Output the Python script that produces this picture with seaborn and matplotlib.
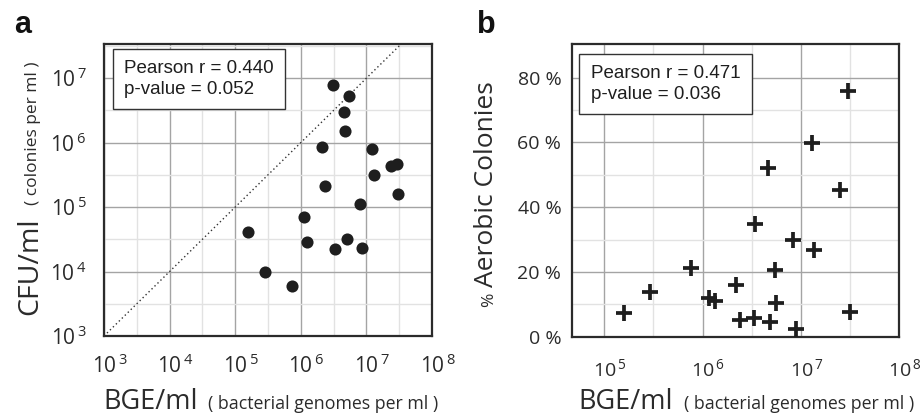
import matplotlib
matplotlib.use("Agg")
import matplotlib.pyplot as plt
import matplotlib.transforms as mtransforms
from matplotlib.ticker import FixedLocator, FixedFormatter, NullFormatter
import numpy as np
import pandas as pd
import seaborn as sns

sns.set_style("white")
plt.rcParams['font.family'] = ['Open Sans', 'DejaVu Sans']
plt.rcParams['mathtext.fontset'] = 'custom'
plt.rcParams['mathtext.rm'] = 'Open Sans'
plt.rcParams['mathtext.default'] = 'regular'

dark = "#2b2b2b"

# ---- panel a: CFU/ml vs BGE/ml (both log) ----
bge_a = [3.1e6, 5.5e6, 4.6e6, 4.7e6, 2.1e6, 1.23e7, 2.34e7, 2.9e7, 1.32e7, 2.34e6,
         3.0e7, 7.9e6, 1.1e6, 1.58e5, 1.26e6, 5.1e6, 3.3e6, 8.5e6, 2.8e5, 7.4e5]
cfu_a = [7.9e6, 5.2e6, 3.0e6, 1.5e6, 8.5e5, 7.9e5, 4.4e5, 4.7e5, 3.1e5, 2.1e5,
         1.6e5, 1.12e5, 6.9e4, 4.1e4, 2.9e4, 3.2e4, 2.2e4, 2.3e4, 1.0e4, 5.9e3]

# ---- panel b: % aerobic colonies vs BGE/ml ----
bge_b = [3.0e7, 1.29e7, 4.6e6, 2.5e7, 3.4e6, 8.3e6, 1.35e7, 7.6e5, 5.5e6, 2.2e6,
         2.95e5, 1.15e6, 1.35e6, 5.6e6, 1.58e5, 3.16e7, 2.4e6, 3.3e6, 4.8e6, 8.9e6]
aerobic_b = [75.9, 59.7, 52.2, 45.2, 34.9, 29.9, 26.9, 21.2, 20.7, 16.0,
             13.7, 12.0, 10.9, 10.3, 7.2, 7.5, 5.3, 5.7, 4.6, 2.3]

stats_a = "Pearson r = 0.440\np-value = 0.052"
stats_b = "Pearson r = 0.471\np-value = 0.036"

df_a = pd.DataFrame({"bge": bge_a, "cfu": cfu_a})
df_b = pd.DataFrame({"bge": bge_b, "aerobic": aerobic_b})

W, H = 924, 418
fig = plt.figure(figsize=(W / 100, H / 100), dpi=100)
ax1 = fig.add_axes([104 / W, 1 - 336 / H, 328 / W, 292 / H])
ax2 = fig.add_axes([571.7 / W, 1 - 336.7 / H, 327.6 / W, 292.4 / H])


def style_axes(ax):
    ax.set_axisbelow(True)
    ax.grid(which='major', color='#a4a4a4', lw=1.0)
    ax.grid(which='minor', color='#e2e2e2', lw=1.0)
    for s in ax.spines.values():
        s.set_color(dark)
        s.set_linewidth(1.6)
    ax.tick_params(which='major', direction='inout', length=9, width=2.3,
                   color=dark, labelcolor=dark)
    ax.tick_params(which='minor', length=0)


def pow_labels(exps):
    return ['10$^{\\,%d}$' % e for e in exps]


def shift_labels(ax, dx_pt):
    off = mtransforms.ScaledTranslation(dx_pt / 72, 0, fig.dpi_scale_trans)
    for lab in ax.get_xticklabels():
        lab.set_transform(lab.get_transform() + off)


# panel a
sns.scatterplot(data=df_a, x="bge", y="cfu", ax=ax1, s=76, color="#1e1e1e",
                edgecolor="#1e1e1e", linewidth=0, zorder=3)
ax1.plot([1e3, 1e8], [1e3, 1e8], ls=(0, (1, 2)), color="#333333", lw=1.0, zorder=2)
ax1.set_xscale('log')
ax1.set_yscale('log')
ax1.set_xlim(1e3, 1e8)
ax1.set_ylim(1e3, 10 ** 7.53)
dec_a = np.arange(3, 9)
ax1.xaxis.set_major_locator(FixedLocator(10.0 ** dec_a))
ax1.xaxis.set_major_formatter(FixedFormatter(pow_labels(dec_a)))
ax1.xaxis.set_minor_locator(FixedLocator(10.0 ** (dec_a + 0.5)))
ax1.xaxis.set_minor_formatter(NullFormatter())
ax1.yaxis.set_major_locator(FixedLocator(10.0 ** dec_a[:5]))
ax1.yaxis.set_major_formatter(FixedFormatter(pow_labels(dec_a[:5])))
ax1.yaxis.set_minor_locator(FixedLocator(10.0 ** (dec_a + 0.5)))
ax1.yaxis.set_minor_formatter(NullFormatter())
style_axes(ax1)
ax1.tick_params(axis='both', which='major', labelsize=15)
ax1.tick_params(axis='x', pad=9)
ax1.tick_params(axis='y', pad=8)
ax1.set_xlabel('')
ax1.set_ylabel('')
shift_labels(ax1, 4)
ax1.text(0.061, 0.945, stats_a, transform=ax1.transAxes, ha='left', va='top',
         fontsize=13.5, family=['Liberation Sans'], color="#1e1e1e", linespacing=1.3,
         bbox=dict(boxstyle='square,pad=0.6', fc='white', ec='#333333', lw=1.0),
         zorder=5)

# panel b
sns.scatterplot(data=df_b, x="bge", y="aerobic", ax=ax2, marker='+', s=125,
                color="#1e1e1e", linewidth=2.7, zorder=3)
ax2.set_xscale('log')
ax2.set_xlim(10 ** 4.67, 1e8)
ax2.set_ylim(0, 90.3)
dec_b = np.arange(5, 9)
ax2.xaxis.set_major_locator(FixedLocator(10.0 ** dec_b))
ax2.xaxis.set_major_formatter(FixedFormatter(pow_labels(dec_b)))
ax2.xaxis.set_minor_locator(FixedLocator(10.0 ** (np.arange(4, 8) + 0.5)))
ax2.xaxis.set_minor_formatter(NullFormatter())
pct = [0, 20, 40, 60, 80]
ax2.yaxis.set_major_locator(FixedLocator(pct))
ax2.yaxis.set_major_formatter(FixedFormatter(['%d %%' % p for p in pct]))
ax2.yaxis.set_minor_locator(FixedLocator([10, 30, 50, 70]))
style_axes(ax2)
ax2.tick_params(axis='both', which='major', labelsize=14)
ax2.tick_params(axis='x', pad=11)
ax2.tick_params(axis='y', pad=3)
ax2.set_xlabel('')
ax2.set_ylabel('')
shift_labels(ax2, 4)
ax2.text(0.058, 0.93, stats_b, transform=ax2.transAxes, ha='left', va='top',
         fontsize=13.5, family=['Liberation Sans'], color="#1e1e1e", linespacing=1.3,
         bbox=dict(boxstyle='square,pad=0.6', fc='white', ec='#333333', lw=1.0),
         zorder=5)

# panel letters
fig.text(14 / W, 1 - 33 / H, 'a', fontsize=22, weight='bold',
         family=['Liberation Sans'], color='#111111', va='baseline')
fig.text(477 / W, 1 - 33 / H, 'b', fontsize=22, weight='bold',
         family=['Liberation Sans'], color='#111111', va='baseline')

# composite axis labels (big unit + small description)
renderer = fig.canvas.get_renderer()


def two_part(x_px, y_px, big, small, big_size, small_size, rot, gap_px):
    kw = dict(rotation=rot, rotation_mode='anchor', ha='left', va='baseline',
              color=dark)
    t1 = fig.text(x_px / W, 1 - y_px / H, big, fontsize=big_size, **kw)
    bb = t1.get_window_extent(renderer)
    if rot == 0:
        fig.text((bb.x1 + gap_px) / fig.bbox.width, 1 - y_px / H, small,
                 fontsize=small_size, **kw)
    else:
        fig.text(x_px / W, (bb.y1 + gap_px) / fig.bbox.height, small,
                 fontsize=small_size, **kw)


two_part(103, 409, 'BGE/ml', '( bacterial genomes per ml )', 19.5, 12.8, 0, 11)
two_part(578, 409, 'BGE/ml', '( bacterial genomes per ml )', 19.5, 12.8, 0, 11)
two_part(37, 315, 'CFU/ml', '( colonies per ml )', 20.5, 12.5, 90, 12)
two_part(493, 307, '%', 'Aerobic Colonies', 12.5, 19, 90, 6)

fig.savefig("out.png", dpi=100)
